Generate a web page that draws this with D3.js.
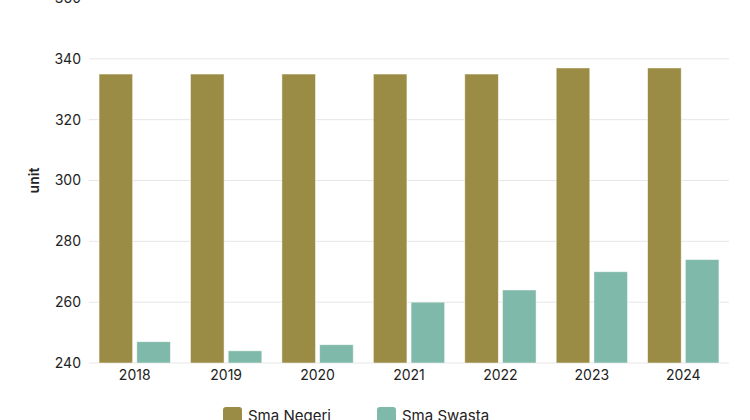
<!DOCTYPE html>
<html>
<head>
<meta charset="utf-8">
<script src="https://cdn.jsdelivr.net/npm/d3@7"></script>
<style>
  body { margin: 0; background: #fff; }
  svg text { font-family: Inter, "Noto Sans", sans-serif; }
</style>
</head>
<body>
<div class="container"></div>
<script>
var years = ["2018", "2019", "2020", "2021", "2022", "2023", "2024"];
var negeri = [335, 335, 335, 335, 335, 337, 337];
var swasta = [247, 244, 246, 260, 264, 270, 274];
var seriesNames = ["Sma Negeri", "Sma Swasta"];
var seriesColors = ["#9a8c45", "#7fb9a9"];
var yTicks = [240, 260, 280, 300, 320, 340, 360];

var width = 750, height = 420;
var margin = {left: 89, right: 21, top: -2, bottom: 57};

var svg = d3.select(".container").append("svg")
  .attr("width", width)
  .attr("height", height);

// y scale: 240 at bottom, 360 at top (top is cut off)
var y = d3.scaleLinear()
  .domain([240, 360])
  .range([height - margin.bottom, margin.top]);

var x = d3.scaleBand()
  .domain(years)
  .range([margin.left, width - margin.right])
  .paddingInner(0.22)
  .paddingOuter(0.11);

var xs = d3.scaleBand()
  .domain(seriesNames)
  .range([0, x.bandwidth()])
  .paddingInner(0.11);

// gridlines
svg.append("g")
  .selectAll("line")
  .data(yTicks)
  .enter().append("line")
  .attr("x1", margin.left)
  .attr("x2", width - margin.right)
  .attr("y1", function (d) { return y(d); })
  .attr("y2", function (d) { return y(d); })
  .style("stroke", "#e6e6e6")
  .style("stroke-width", 1);

// y labels
var yAxis = svg.append("g")
  .attr("transform", "translate(" + (margin.left - 8) + ",0)")
  .call(d3.axisLeft(y).tickValues(yTicks).tickSize(0).tickPadding(0));
yAxis.attr("font-family", null);
yAxis.select(".domain").remove();
yAxis.selectAll("text")
  .style("font-size", "14px")
  .style("fill", "#222");

svg.append("text")
  .attr("transform", "translate(39," + y(300) + ") rotate(-90)")
  .attr("text-anchor", "middle")
  .style("font-size", "14px")
  .style("font-weight", "600")
  .style("fill", "#222")
  .text("unit");

// bars
var data = years.map(function (yr, i) {
  return {year: yr, values: [negeri[i], swasta[i]]};
});

var groups = svg.append("g")
  .selectAll("g")
  .data(data)
  .enter().append("g")
  .attr("transform", function (d) { return "translate(" + x(d.year) + ",0)"; });

groups.selectAll("rect")
  .data(function (d) {
    return d.values.map(function (v, j) { return {name: seriesNames[j], value: v, j: j}; });
  })
  .enter().append("rect")
  .attr("x", function (d) { return xs(d.name); })
  .attr("width", xs.bandwidth())
  .attr("y", function (d) { return y(d.value); })
  .attr("height", function (d) { return y(240) - y(d.value); })
  .style("fill", function (d) { return seriesColors[d.j]; })
  .style("stroke", "#ffffff")
  .style("stroke-opacity", 0.6)
  .style("stroke-width", 0.8);

// x axis
var xAxis = svg.append("g")
  .attr("transform", "translate(0," + y(240) + ")")
  .call(d3.axisBottom(x).tickSize(0).tickPadding(7));
xAxis.attr("font-family", null);
xAxis.select(".domain").remove();
xAxis.selectAll("text")
  .style("font-size", "14px")
  .style("fill", "#222");

// legend
var legendX = [223, 377];
var legend = svg.append("g")
  .selectAll("g")
  .data(seriesNames)
  .enter().append("g")
  .attr("transform", function (d, i) { return "translate(" + legendX[i] + ",407)"; });

legend.append("rect")
  .attr("width", 19)
  .attr("height", 19)
  .attr("rx", 3)
  .style("fill", function (d, i) { return seriesColors[i]; });

legend.append("text")
  .attr("x", 25)
  .attr("y", 14)
  .style("font-size", "15px")
  .style("fill", "#222")
  .text(function (d) { return d; });
</script>
</body>
</html>
